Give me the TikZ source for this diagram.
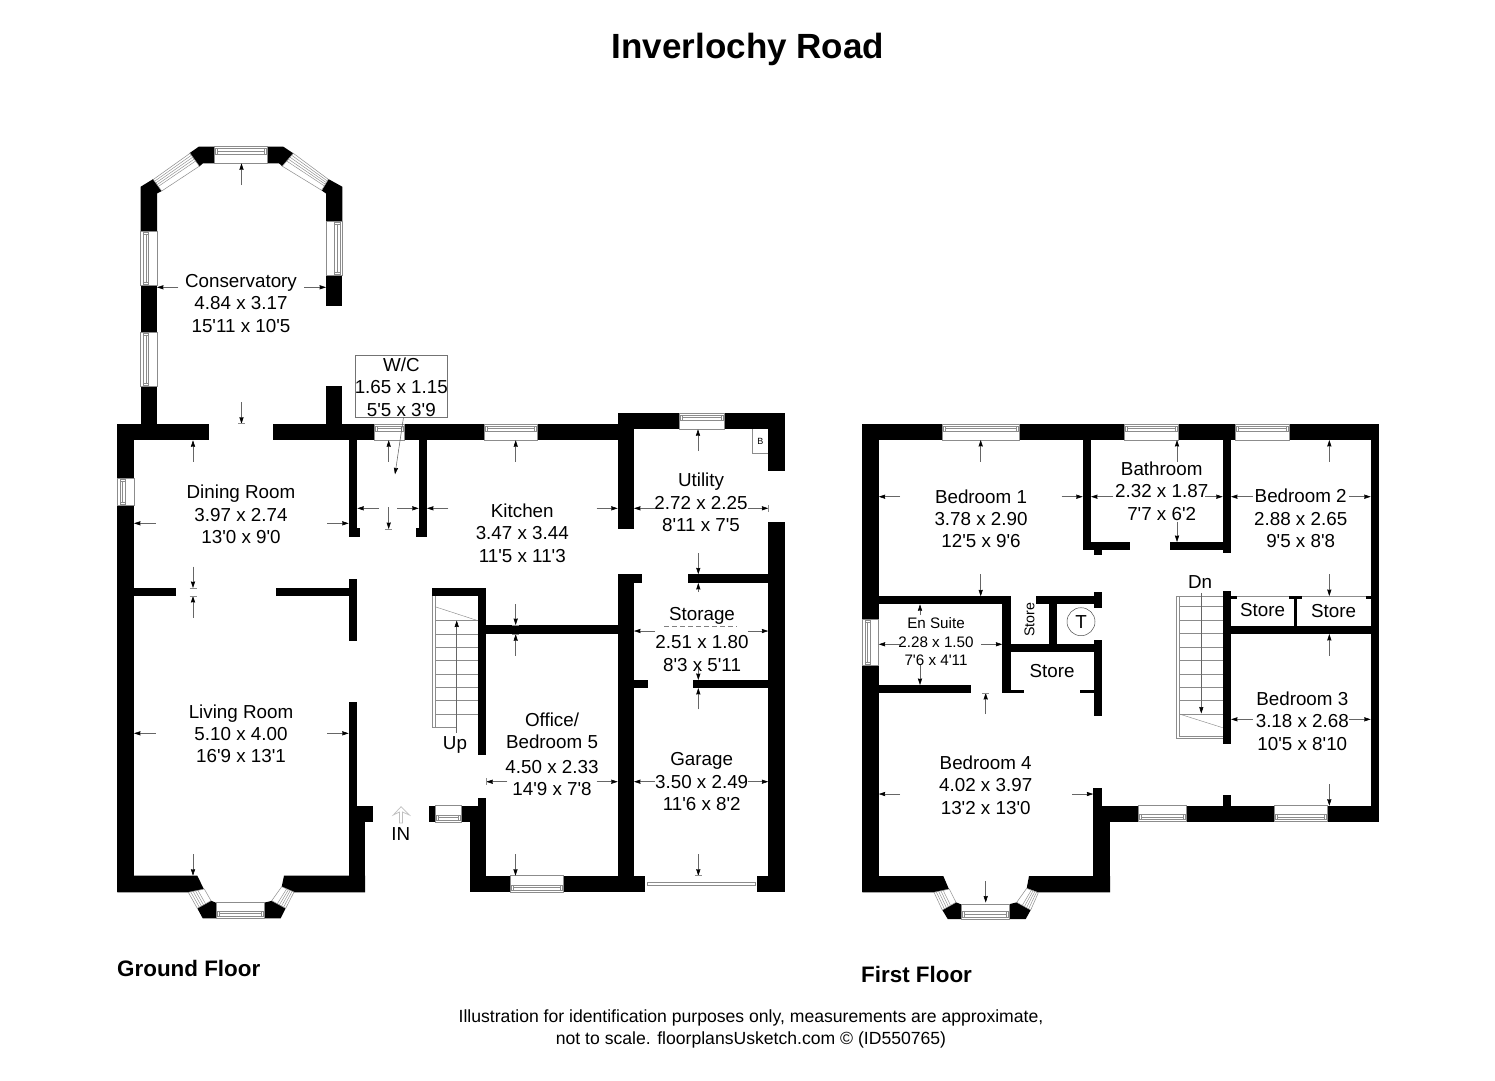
\documentclass[tikz,border=0pt]{standalone}
\usepackage{fontspec}
\setmainfont{Liberation Sans}[Ligatures=TeXOff]
\usetikzlibrary{arrows.meta,calc}
\tikzset{
  wall/.style={fill=black},
  winline/.style={draw=black!45,line width=.5pt,fill=white},
  dimline/.style={draw=black!60,line width=.55pt,-{Stealth[length=6.5pt,width=4.2pt,inset=0.5pt,color=black]}},
  tickline/.style={draw=black!45,line width=.45pt},
  room/.style={font=\fontsize{18.8}{22.4}\selectfont,align=center,inner sep=0pt},
  small/.style={font=\fontsize{15.2}{18.3}\selectfont,align=center,inner sep=0pt},
  head/.style={font=\fontsize{22.4}{26}\selectfont\bfseries,anchor=west,inner sep=0pt},
  foot/.style={font=\fontsize{17.6}{22}\selectfont,align=center,inner sep=0pt}
}
\newcommand{\wl}[4]{\fill[wall] (#1,#3) rectangle (#2,#4);}
\newcommand{\dm}[4]{\draw[dimline] (#1,#2) -- (#3,#4);}
\newcommand{\tk}[2]{\draw[tickline] (#1-3.5,#2) -- (#1+3.5,#2);}
% horizontal windows: band at the top / at the bottom
\newcommand{\winT}[4]{\draw[winline] (#1,#3) rectangle (#2,#4);
  \draw[winline] (#1+1,#3+2) rectangle (#2-1,#3+7.5);
  \draw[tickline] (#1+3,#3+2) -- (#1+3,#3+7.5) (#2-3,#3+2) -- (#2-3,#3+7.5) (#1+3,#3+4.7) -- (#2-3,#3+4.7);}
\newcommand{\winB}[4]{\draw[winline] (#1,#3) rectangle (#2,#4);
  \draw[winline] (#1+1,#4-7.5) rectangle (#2-1,#4-2);
  \draw[tickline] (#1+3,#4-7.5) -- (#1+3,#4-2) (#2-3,#4-7.5) -- (#2-3,#4-2) (#1+3,#4-4.7) -- (#2-3,#4-4.7);}
% vertical windows: band at the left / at the right
\newcommand{\winL}[4]{\draw[winline] (#1,#3) rectangle (#2,#4);
  \draw[winline] (#1+2.5,#3+1) rectangle (#1+8,#4-1);
  \draw[tickline] (#1+2.5,#3+3) -- (#1+8,#3+3) (#1+2.5,#4-3) -- (#1+8,#4-3) (#1+5.2,#3+3) -- (#1+5.2,#4-3);}
\newcommand{\winR}[4]{\draw[winline] (#1,#3) rectangle (#2,#4);
  \draw[winline] (#2-8,#3+1) rectangle (#2-2.5,#4-1);
  \draw[tickline] (#2-8,#3+3) -- (#2-2.5,#3+3) (#2-8,#4-3) -- (#2-2.5,#4-3) (#2-5.2,#3+3) -- (#2-5.2,#4-3);}
% slanted windows: corners A B (short side) C D (short side)
\newcommand{\winS}[4]{\draw[winline] #1 -- #2 -- #3 -- #4 -- cycle;
  \foreach \t in {.15,.3,.45,.6}{\draw[tickline] ($#1!\t!#2$) -- ($#4!\t!#3$);}}
\begin{document}
\begin{tikzpicture}[x=1pt,y=-1pt]
\useasboundingbox (0,0) rectangle (1495,1080);
\fill[white] (0,0) rectangle (1495,1080);

% ---------- GROUND FLOOR walls ----------
% conservatory
\fill[wall] (198.7,146.7) -- (214.7,146.7) -- (214.7,163.3) -- (203,163.3) -- (199.3,166.5) -- (189.3,153.3) -- cycle;
\fill[wall] (267.7,146.7) -- (283.3,146.7) -- (293.3,153.3) -- (282.3,166.3) -- (279,163.3) -- (267.7,163.3) -- cycle;
\fill[wall] (140.7,186.7) -- (153.3,179) -- (161.7,191) -- (157,193.5) -- (157,231.7) -- (140.7,231.7) -- cycle;
\wl{140.7}{157}{285.7}{332.7}
\wl{140.7}{157}{386.7}{424}
\fill[wall] (342.3,186.7) -- (328.3,179) -- (321.7,190.5) -- (326,193.5) -- (326,221.7) -- (342.3,221.7) -- cycle;
\wl{326}{342.3}{275.7}{305.7}
\wl{326}{342.3}{386}{424}
% main top wall
\wl{117.3}{209.3}{424}{440.3}
\wl{273.3}{374.3}{424}{440.3}
\wl{404}{484}{424}{440.3}
\wl{537.7}{634}{424}{440.3}
% west wall
\wl{117.3}{134}{440}{478.3}
\wl{117.3}{134}{505}{892.3}
% dining / living partition
\wl{134}{176.3}{588}{596.3}
\wl{275.7}{348.7}{588}{596.3}
\wl{348.7}{357.3}{579.3}{640.7}
% W/C
\wl{348.7}{357.3}{440}{528.5}
\wl{348.7}{360}{528.3}{537.3}
\wl{418.7}{427}{440}{528.5}
\wl{416}{427}{528.3}{537.3}
% living east wall and porch
\wl{348.7}{357.3}{702.3}{806}
\wl{348.7}{373.3}{805.7}{822.3}
\wl{348.7}{365}{822}{892.3}
% bay
\fill[wall] (117.3,875.7) -- (197.3,875.7) -- (204.3,890) -- (188.3,892.3) -- (117.3,892.3) -- cycle;
\fill[wall] (197.3,908.3) -- (211,900.7) -- (216,902.7) -- (216,918.3) -- (202.7,918.3) -- cycle;
\fill[wall] (264,902.7) -- (272.3,900.7) -- (285.7,908.3) -- (280.7,918.3) -- (264,918.3) -- cycle;
\fill[wall] (284,875.7) -- (281.7,886.7) -- (294,892.3) -- (365,892.3) -- (365,875.7) -- cycle;
% stair walls, office
\wl{432.3}{486.3}{588}{596.3}
\wl{478}{486.3}{588}{755}
\wl{478}{617.7}{625}{634.3}
\wl{478}{486.3}{797.7}{806}
\wl{461.7}{486.3}{805.7}{822.3}
\wl{429.3}{435}{805.7}{822.3}
\wl{470}{486.3}{822}{892.3}
\wl{470}{510}{875.7}{892.3}
\wl{563.3}{645}{875.7}{892.3}
% utility / storage / garage
\wl{617.7}{679}{413}{429.3}
\wl{724}{785}{413}{429.3}
\wl{768.3}{785}{413}{471.3}
\wl{768.3}{785}{522.3}{892.3}
\wl{617.7}{634}{413}{529}
\wl{617.7}{642.3}{574.3}{583}
\wl{617.7}{634}{574.3}{892.3}
\wl{634}{648}{680}{688}
\wl{688}{768.3}{574.3}{583}
\wl{693.3}{768.3}{680}{688}
\wl{757.3}{785}{875.7}{892.3}

% ---------- FIRST FLOOR walls ----------
\wl{862.3}{942.3}{424}{440}
\wl{1019.7}{1124.3}{424}{440}
\wl{1178.3}{1235.3}{424}{440}
\wl{1289}{1379}{424}{440}
\wl{862.3}{878.7}{424}{619.3}
\wl{862.3}{878.7}{665}{892.3}
\wl{1082.7}{1091}{440}{550}
\wl{1082.7}{1130}{542}{550}
\wl{1093.7}{1102}{550}{555.3}
\wl{1169.7}{1231}{542}{550}
\wl{1222.7}{1231}{440}{552.7}
\wl{1222.7}{1231}{590.7}{744}
\wl{1370.7}{1379}{424}{821.7}
\wl{1231}{1236.7}{596}{599}
\wl{1289}{1302.3}{596}{599}
\wl{1294}{1297.3}{596}{626}
\wl{1365.7}{1370.7}{596}{599}
\wl{1231}{1370.7}{625.7}{634}
\wl{1093.3}{1138.3}{805.7}{821.7}
\wl{1186}{1274}{805.7}{821.7}
\wl{1327.7}{1379}{805.7}{821.7}
\wl{1222.7}{1231}{795}{806}
\wl{1093.3}{1102}{788.3}{806}
\wl{1093.3}{1110}{805.7}{892.3}
% en suite, stores
\wl{878.7}{1010.7}{596.3}{604.3}
\wl{1002.3}{1010.7}{596.3}{693}
\wl{1002.3}{1024}{690}{693}
\wl{878.7}{971}{685}{693}
\wl{1010.7}{1102}{644.3}{652.3}
\wl{1049.3}{1057.3}{596.3}{644.3}
\wl{1036}{1102}{596.3}{604}
\wl{1093.7}{1102}{591.7}{608.3}
\wl{1093.7}{1102}{640}{715.7}
\wl{1080}{1093.7}{690}{693}
% bay
\fill[wall] (862.3,876) -- (943.3,876) -- (949.3,890) -- (934,892.3) -- (862.3,892.3) -- cycle;
\fill[wall] (942.3,910) -- (956,902.3) -- (961,904.3) -- (961,919) -- (947.7,919) -- cycle;
\fill[wall] (1009,904.3) -- (1016.7,902.3) -- (1030.7,910) -- (1025.7,919) -- (1009,919) -- cycle;
\fill[wall] (1029,876) -- (1026.7,888.3) -- (1038.3,892.3) -- (1110,892.3) -- (1110,876) -- cycle;

% ---------- windows ----------
\winT{214.7}{267.7}{146.7}{163.3}
\winS{(190,153.3)}{(199.3,166.2)}{(161.7,191)}{(153.3,179.5)}
\winS{(293.3,153.3)}{(282.3,166.2)}{(321.7,190.3)}{(328.3,179.3)}
\winL{140.7}{157}{231.7}{285.7}
\winL{140.7}{157}{332.7}{386.7}
\winR{326}{342.3}{221.7}{275.7}
\winT{374.3}{404}{424}{440.3}
\winT{484}{537.7}{424}{440.3}
\winT{679}{724}{413}{429.3}
\winL{117.3}{134}{478.3}{505}
\winS{(188.3,892.3)}{(204.3,889)}{(211,900.7)}{(197.3,908.3)}
\winS{(294,892)}{(281.7,886.7)}{(271.7,900.7)}{(285.7,908.3)}
\winB{216}{264}{902.7}{918.3}
\winB{435}{461.7}{805.7}{822.3}
\winB{510}{563.3}{875.7}{892.3}
\draw[winline] (647.7,882.3) rectangle (755.7,885.7);
\winT{942.3}{1019.7}{424}{440}
\winT{1124.3}{1178.3}{424}{440}
\winT{1235.3}{1289}{424}{440}
\winL{862.3}{878.7}{619.3}{665}
\winB{1138.3}{1186}{805.7}{821.7}
\winB{1274}{1327.7}{805.7}{821.7}
\winS{(934,892.3)}{(949.3,889)}{(956,902.3)}{(942.3,910)}
\winS{(1038.3,892.7)}{(1026.7,888.3)}{(1016.7,902.3)}{(1030.7,910)}
\winB{961}{1009}{904.3}{919}
% thin store fronts
\draw[tickline] (1236.7,596.5) -- (1289,596.5) (1302.3,596.5) -- (1365.7,596.5);
% boiler box
\draw[winline,fill=none] (752.3,429.3) -- (752.3,453.7) -- (768.3,453.7);
\node[inner sep=0pt,font=\fontsize{9}{10}\selectfont] (boiler) at (760.3,441) {B};

% ---------- stairs ----------
\draw[winline,fill=none] (432.3,596.3) -- (432.3,727.7) -- (435,727.7) -- (435,596.3);
\draw[tickline] (435,606.7) -- (478,620.7);
\foreach \y in {620.7,634,647.3,660.7,674,687.3,700.7,714}{\draw[tickline] (435,\y) -- (478,\y);}
\draw[tickline] (435,727.7) -- (456.7,727.7);
\dm{456.7}{732.7}{456.7}{620.5}
\draw[winline,fill=none] (1222.7,738.7) -- (1176.7,738.7) -- (1176.7,596) -- (1222.7,596);
\draw[tickline] (1179.3,596) -- (1179.3,736) -- (1222.7,736);
\foreach \y in {606.7,620,633.3,647,660.7,674,687.3,700.7,714}{\draw[tickline] (1179.3,\y) -- (1222.7,\y);}
\draw[tickline] (1179.3,714) -- (1222.7,727.7);
\dm{1201.3}{593}{1201.3}{713.5}

% ---------- entry arrow ----------
\draw[draw=black!25,line width=.7pt] (401,806.7) -- (393.3,815) -- (399.5,812) -- (399.5,823) -- (402.5,823) -- (402.5,812) -- (409.3,815) -- cycle;

% ---------- dimension arrows: ground floor ----------
\dm{178.3}{287.3}{157}{287.3}
\dm{304}{287.3}{326}{287.3}
\dm{241.5}{185}{241.5}{163.3}
\dm{241.5}{402}{241.5}{423.7}\tk{241.5}{423.7}
\dm{193}{461.7}{193}{440.3}
\dm{155.7}{523.3}{134}{523.3}
\dm{327.3}{523.3}{348.7}{523.3}
\dm{193}{566.7}{193}{588}\tk{193}{588}
\dm{193}{617.7}{193}{596}\tk{193}{596}
\dm{155.7}{733.3}{134}{733.3}
\dm{327.3}{733.3}{348.7}{733.3}
\dm{193}{854.3}{193}{875.7}
\dm{388.7}{461.7}{388.7}{440.3}
\dm{379}{508.3}{357.3}{508.3}
\dm{397.3}{508.3}{418.7}{508.3}
\dm{388.7}{507.3}{388.7}{529}\tk{388.7}{529}
\dm{448.3}{508.3}{427}{508.3}
\dm{596.7}{508.3}{617.7}{508.3}
\dm{515.7}{461.7}{515.7}{440.3}
\dm{515.7}{604.3}{515.7}{625}\tk{515.7}{625}
\dm{515.7}{655.7}{515.7}{634.3}\tk{515.7}{634.3}
\dm{507.3}{781.7}{486.3}{781.7}\draw[tickline] (486.3,778.2) -- (486.3,785.2);
\dm{596.7}{781.7}{617.7}{781.7}
\dm{515.5}{854.3}{515.5}{875.7}
\dm{698}{451}{698}{429.3}
\dm{655}{508.3}{634}{508.3}
\dm{747.7}{508.3}{768.3}{508.3}\draw[tickline] (768.3,504.8) -- (768.3,511.8);
\dm{698.3}{553.3}{698.3}{574.3}
\dm{698.3}{592}{698.3}{583}
\dm{655}{631}{634}{631}
\dm{747.7}{631}{768.3}{631}
\dm{698.3}{666.7}{698.3}{680}
\dm{698.3}{709.3}{698.3}{688}
\dm{655}{781.7}{634}{781.7}
\dm{747.7}{781.7}{768.3}{781.7}
\dm{698.3}{854.3}{698.3}{875.7}\tk{698.3}{875.7}
% W/C box and its leader
\node[draw=black!55,line width=.55pt,minimum width=92pt,minimum height=62.3pt,inner sep=0pt] (wcbox) at (401.3,386.2) {};
\coordinate (wcpoint) at (395,474.3);
\draw[dimline] (403.5,417.3) -- (wcpoint);

% ---------- dimension arrows: first floor ----------
\dm{980.7}{461.7}{980.7}{440}
\dm{900}{496.7}{878.7}{496.7}
\dm{1061.7}{496.7}{1082.7}{496.7}
\dm{980.7}{574.3}{980.7}{596.3}
\dm{920}{615}{920}{604.3}
\dm{920}{665}{920}{685}
\dm{900}{644.3}{878.7}{644.3}
\dm{981}{644.3}{1002.3}{644.3}
\dm{985.7}{714}{985.7}{693}\tk{985.7}{693}
\dm{900}{794}{878.7}{794}
\dm{1072.3}{794}{1093.3}{794}
\dm{985.7}{881}{985.7}{902.5}
\dm{1177}{461.7}{1177}{440}
\dm{1113.3}{496.7}{1091}{496.7}
\dm{1205}{496.7}{1222.7}{496.7}
\dm{1177}{521.7}{1177}{542}
\dm{1329.3}{461.7}{1329.3}{440}
\dm{1252.7}{496.7}{1231}{496.7}
\dm{1349.3}{496.7}{1370.7}{496.7}
\dm{1329.3}{574.3}{1329.3}{596}
\dm{1329.3}{655.7}{1329.3}{634}
\dm{1252.7}{719.3}{1231}{719.3}
\dm{1349.3}{719.3}{1370.7}{719.3}
\dm{1329.3}{784.3}{1329.3}{805.7}

% ---------- hatched remnant under Storage ----------
\draw[draw=black!50,line width=.5pt,dash pattern=on 5pt off 3pt] (664,626.3) -- (737,626.3);

% ---------- labels ----------
\node[font=\fontsize{35}{40}\selectfont\bfseries,inner sep=0pt] (title) at (748,49) {Inverlochy Road};
\node[room] (conservatory) at (241,303.5) {Conservatory\\4.84 x 3.17\\15'11 x 10'5};
\node[room] (wc) at (401.3,387.2) {W/C\\1.65 x 1.15\\5'5 x 3'9};
\node[room] (dining) at (241,514.5) {Dining Room\\3.97 x 2.74\\13'0 x 9'0};
\node[room] (living) at (241,733.7) {Living Room\\5.10 x 4.00\\16'9 x 13'1};
\node[room] (kitchen) at (522.3,533) {Kitchen\\3.47 x 3.44\\11'5 x 11'3};
\node[room] (utility) at (701,502.3) {Utility\\2.72 x 2.25\\8'11 x 7'5};
\node[room] (storage) at (702,615.5) {Storage};
\node[room] (storagedim) at (702,653.5) {2.51 x 1.80\\8'3 x 5'11};
\node[room] (office) at (552,731) {Office/\\Bedroom 5};
\node[room] (officedim) at (552,778) {4.50 x 2.33\\14'9 x 7'8};
\node[room] (garage) at (701.7,781.7) {Garage\\3.50 x 2.49\\11'6 x 8'2};
\node[room,inner sep=0pt] (up) at (455,745) {Up};
\node[room] (in) at (400.7,834) {IN};
\node[room] (bed1) at (981,518.7) {Bedroom 1\\3.78 x 2.90\\12'5 x 9'6};
\node[room] (bath) at (1161.7,491) {Bathroom\\2.32 x 1.87\\7'7 x 6'2};
\node[room] (bed2) at (1300.7,518.3) {Bedroom 2\\2.88 x 2.65\\9'5 x 8'8};
\node[room] (bed3) at (1302.3,721) {Bedroom 3\\3.18 x 2.68\\10'5 x 8'10};
\node[room] (bed4) at (985.7,785) {Bedroom 4\\4.02 x 3.97\\13'2 x 13'0};
\node[small] (ensuite) at (936,641.7) {En Suite\\2.28 x 1.50\\7'6 x 4'11};
\node[room] (dn) at (1200,582) {Dn};
\node[room] (store1) at (1262.5,610.5) {Store};
\node[room] (store2) at (1333.5,611.5) {Store};
\node[room] (store3) at (1052,671) {Store};
\node[inner sep=0pt,rotate=90,font=\fontsize{14.2}{16}\selectfont] (store4) at (1029.5,619.7) {Store};
\node[draw=black!70,line width=.5pt,circle,minimum size=28pt,inner sep=0pt,font=\fontsize{18.8}{20}\selectfont] (tank) at (1081,621.7) {T};
\node[head] (ground) at (117,968) {Ground Floor};
\node[head] (first) at (861,974) {First Floor};
\node[foot] (note) at (751,1028.5) {Illustration for identification purposes only, measurements are approximate,\\not to scale. floorplansUsketch.com © (ID550765)};
\end{tikzpicture}
\end{document}
